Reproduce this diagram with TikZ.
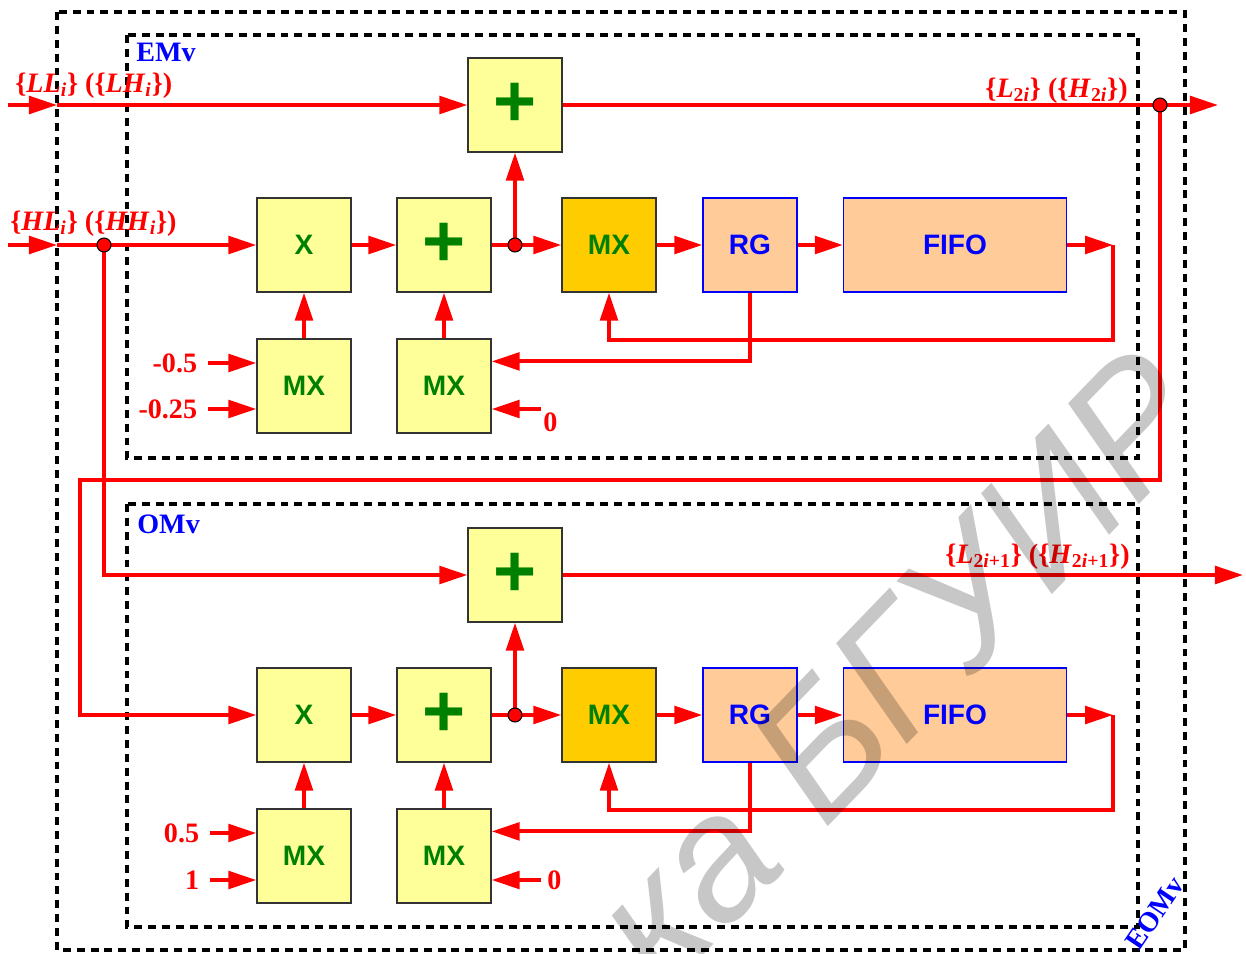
\documentclass[tikz,border=0pt]{standalone}
\usepackage{fontspec}
\setmainfont{Liberation Serif}
\setsansfont{Liberation Sans}
\newfontfamily\wmfont{Liberation Sans}
\usetikzlibrary{arrows.meta, calc}
\definecolor{wirered}{RGB}{255,0,0}
\definecolor{blockyellow}{RGB}{255,255,153}
\definecolor{muxorange}{RGB}{255,204,0}
\definecolor{regpeach}{RGB}{255,204,153}
\definecolor{opgreen}{RGB}{0,128,0}
\definecolor{unitblue}{RGB}{0,0,255}

\begin{document}
\begin{tikzpicture}[
    x=0.02cm, y=-0.02cm,
    blk/.style={draw=black!80, line width=0.7pt, fill=blockyellow,
        minimum width=1.88cm, minimum height=1.88cm, inner sep=0pt,
        font=\sffamily\bfseries\fontsize{16}{16}\selectfont, text=opgreen},
    addbox/.style={blk, font=\sffamily\bfseries\fontsize{42}{42}\selectfont},
    muxbox/.style={blk, fill=muxorange},
    regbox/.style={blk, draw=unitblue, fill=regpeach, text=unitblue},
    wire/.style={wirered, line width=2.3pt},
    arrow/.style={wire, -{Triangle[length=16pt, width=10pt]}},
    tapdot/.style={circle, draw=black, line width=0.6pt, fill=wirered,
        minimum size=0.28cm, inner sep=0pt},
    frame/.style={draw=black, line width=2.3pt, dash pattern=on 4.5pt off 3.4pt},
    sig/.style={text=wirered, font=\bfseries\fontsize{16}{16}\selectfont, inner sep=0pt},
    num/.style={sig, anchor=east, inner xsep=6pt},
    unit/.style={text=unitblue, font=\bfseries\fontsize{16}{16}\selectfont, inner sep=0pt}
]
\useasboundingbox (0,0) rectangle (1246,953);

% Frames
\draw[frame] (57,12) rectangle (1185,950);
\draw[frame] (127,35) rectangle (1138,458);
\draw[frame] (127,504) rectangle (1138,927);
\node[unit, anchor=base west] (lblEM) at (136,62) {EMv};
\node[unit, anchor=base west] (lblOM) at (137,533) {OMv};
\node[unit, rotate=56] (lblEOM) at (1155,913) {EOMv};

% EMv blocks
\node[addbox] (sumA) at (515,105) {+};
\node[blk] (mulA) at (304,245) {X};
\node[addbox] (accA) at (444,245) {+};
\node[muxbox] (muxA) at (609,245) {MX};
\node[regbox] (rgA) at (750,245) {RG};
\node[regbox, minimum width=4.46cm] (fifoA) at (955,245) {FIFO};
\node[blk] (kA) at (304,386) {MX};
\node[blk] (zA) at (444,386) {MX};

% OMv blocks
\node[addbox] (sumB) at (515,575) {+};
\node[blk] (mulB) at (304,715) {X};
\node[addbox] (accB) at (444,715) {+};
\node[muxbox] (muxB) at (609,715) {MX};
\node[regbox] (rgB) at (750,715) {RG};
\node[regbox, minimum width=4.46cm] (fifoB) at (955,715) {FIFO};
\node[blk] (kB) at (304,856) {MX};
\node[blk] (zB) at (444,856) {MX};

% Inputs
\coordinate (inLL) at (8,105);
\coordinate (edgeLL) at (57,105);
\coordinate (inHL) at (8,245);
\coordinate (edgeHL) at (57,245);
\coordinate (tapHL) at (104,245);
\node[sig, anchor=base west] (lblLL) at (15,92)
    {\{\textit{LL}\textsubscript{\textit{i}}\} (\{\textit{LH}\textsubscript{\textit{i}}\})};
\node[sig, anchor=base west] (lblHL) at (10,230)
    {\{\textit{HL}\textsubscript{\textit{i}}\} (\{\textit{HH}\textsubscript{\textit{i}}\})};
\draw[arrow] (inLL) -- (edgeLL);
\draw[arrow] (edgeLL) -- (sumA.west);
\draw[arrow] (inHL) -- (edgeHL);
\draw[arrow] (edgeHL) -- (mulA.west);

% EMv wiring
\coordinate (tapA) at (sumA.south |- accA.east);
\coordinate (fbA) at ($(fifoA.east)+(46,0)$);
\coordinate (zeroA) at ($(zA.east)+(49,23)$);
\draw[arrow] (mulA) -- (accA);
\draw[arrow] (accA) -- (muxA);
\draw[arrow] (tapA) -- (sumA.south);
\draw[arrow] (muxA) -- (rgA);
\draw[arrow] (rgA) -- (fifoA);
\draw[arrow] (fifoA) -- (fbA);
\draw[arrow] (fbA) |- ($(muxA.south)+(0,47)$) -- (muxA.south);
\draw[arrow] (rgA.south) |- ($(zA.north east)+(0,23)$);
\draw[arrow] (kA) -- (mulA);
\draw[arrow] (zA) -- (accA);
\node[num] (cA1) at (208,363) {-0.5};
\node[num] (cA2) at (208,409) {-0.25};
\draw[arrow] (cA1) -- (cA1 -| kA.west);
\draw[arrow] (cA2) -- (cA2 -| kA.west);
\draw[arrow] (zeroA) -- (zeroA -| zA.east);
\node[sig, anchor=base west] (cA0) at (543,431) {0};

% EMv output and link to OMv
\coordinate (outA) at (1218,105);
\coordinate (tapOut) at (1160,105);
\draw[arrow] (sumA) -- (outA);
\node[sig, anchor=base east] (lblA) at (1128,97)
    {\{\textit{L}\textsubscript{2\textit{i}}\} (\{\textit{H}\textsubscript{2\textit{i}}\})};
\draw[arrow] (tapOut) |- (80,480) |- (mulB.west);
\draw[arrow] (tapHL) |- (sumB.west);

% OMv wiring
\coordinate (tapB) at (sumB.south |- accB.east);
\coordinate (fbB) at ($(fifoB.east)+(46,0)$);
\coordinate (zeroB) at ($(zB.east)+(49,24)$);
\draw[arrow] (mulB) -- (accB);
\draw[arrow] (accB) -- (muxB);
\draw[arrow] (tapB) -- (sumB.south);
\draw[arrow] (muxB) -- (rgB);
\draw[arrow] (rgB) -- (fifoB);
\draw[arrow] (fifoB) -- (fbB);
\draw[arrow] (fbB) |- ($(muxB.south)+(0,47)$) -- (muxB.south);
\draw[arrow] (rgB.south) |- ($(zB.north east)+(0,23)$);
\draw[arrow] (kB) -- (mulB);
\draw[arrow] (zB) -- (accB);
\node[num] (cB1) at (210,833) {0.5};
\node[num] (cB2) at (210,880) {1};
\draw[arrow] (cB1) -- (cB1 -| kB.west);
\draw[arrow] (cB2) -- (cB2 -| kB.west);
\draw[arrow] (zeroB) -- (zeroB -| zB.east);
\node[sig, anchor=base west] (cB0) at (547,889) {0};

% OMv output
\coordinate (outB) at (1243,575);
\draw[arrow] (sumB) -- (outB);
\node[sig, anchor=base east] (lblB) at (1130,563)
    {\{\textit{L}\textsubscript{2\textit{i}+1}\} (\{\textit{H}\textsubscript{2\textit{i}+1}\})};

% Taps
\node[tapdot] (dotHL) at (tapHL) {};
\node[tapdot] (dotA) at (tapA) {};
\node[tapdot] (dotOut) at (tapOut) {};
\node[tapdot] (dotB) at (tapB) {};

% Watermark
\node[font=\wmfont\itshape\fontsize{100}{100}\selectfont, text=black, opacity=0.22,
    rotate=46] (wm) at (898,668) {ка БГУИР};

\end{tikzpicture}
\end{document}
